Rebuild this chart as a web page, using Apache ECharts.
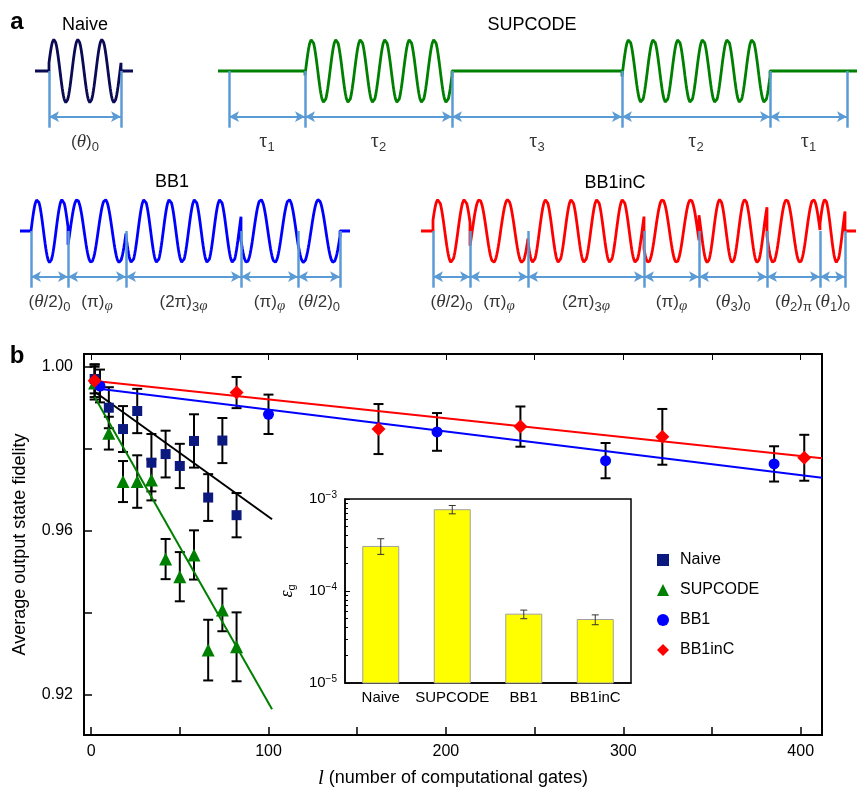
<!DOCTYPE html>
<html>
<head>
<meta charset="utf-8">
<script src="https://cdn.jsdelivr.net/npm/echarts@6/dist/echarts.min.js"></script>
<style>
html, body { margin: 0; padding: 0; background: #fff; }
#chart { width: 857px; height: 792px; }
</style>
</head>
<body>
<div id="chart"></div>
<script>
// ---------- panel a : pulse sequences (durations, carrier cycles, start phase in deg) ----------
const naiveDur = [72];
const naiveCycles = [3];
const naivePhase = [15];
const naiveLead = [14, 12];
const naiveLabels = ['{n|(}{it|θ}{n|)}{s|0}'];

const supDur = [76, 147, 170, 148, 77];
const supCycles = [0, 6, 0, 6, 0];
const supPhase = [0, -8, 0, -10, 0];
const supLead = [11, 10];
const supLabels = ['{tau|τ}{s|1}', '{tau|τ}{s|2}', '{tau|τ}{s|3}', '{tau|τ}{s|2}', '{tau|τ}{s|1}'];

const bb1Dur = [37, 58, 115, 57, 42];
const bb1Cycles = [1.48, 2.06, 4.55, 2.02, 1.41];
const bb1Phase = [0, -26, 189, 197, 203];
const bb1Lead = [11, 10];
const bb1Labels = ['{n|(}{it|θ}{n|/2)}{s|0}', '{n|(π)}{si|φ}', '{n|(2π)}{s|3}{si|φ}', '{n|(π)}{si|φ}', '{n|(}{it|θ}{n|/2)}{s|0}'];

const bb1cDur = [37, 58, 116, 55, 68, 53, 25];
const bb1cCycles = [1.4, 2.04, 4.52, 1.95, 2.72, 1.97, 1.07];
const bb1cPhase = [20, -28, 200, 215, 150, 189, 13];
const bb1cLead = [12, 11];
const bb1cLabels = ['{n|(}{it|θ}{n|/2)}{s|0}', '{n|(π)}{si|φ}', '{n|(2π)}{s|3}{si|φ}', '{n|(π)}{si|φ}',
  '{n|(}{it|θ}{s|3}{n|)}{s|0}', '{n|(}{it|θ}{s|2}{n|)}{s|π}', '{n|(}{it|θ}{s|1}{n|)}{s|0}'];

// ---------- panel b : fidelity vs number of gates ----------
const naiveL = [2, 10, 18, 26, 34, 42, 50, 58, 66, 74, 82];
const naiveF = [0.9970, 0.9900, 0.9848, 0.9892, 0.9766, 0.9787, 0.9758, 0.9819, 0.9681, 0.9820, 0.9638];
const naiveErr = [0.0035, 0.0050, 0.0056, 0.0054, 0.0070, 0.0057, 0.0054, 0.0065, 0.0057, 0.0055, 0.0054];
const supF = [0.9960, 0.9838, 0.9720, 0.9720, 0.9724, 0.9531, 0.9488, 0.9541, 0.9309, 0.9407, 0.9317];
const supErr = [0.0040, 0.0040, 0.0050, 0.0064, 0.0050, 0.0049, 0.0060, 0.0060, 0.0074, 0.0052, 0.0084];
const bb1L = [5, 100, 195, 290, 385];
const bb1F = [0.9953, 0.9884, 0.9841, 0.9771, 0.9763];
const bb1Err = [0.0040, 0.0048, 0.0046, 0.0043, 0.0043];
const bb1cL = [2, 82, 162, 242, 322, 402];
const bb1cF = [0.9966, 0.9937, 0.9848, 0.9854, 0.9829, 0.9778];
const bb1cErr = [0.0040, 0.0038, 0.0061, 0.0049, 0.0068, 0.0056];

// linear fits (end points)
const shortFitL = [2, 102];
const naiveFit = [0.9939, 0.9628];
const supFit = [0.9926, 0.9165];
const longFitL = [1, 412];
const bb1Fit = [0.9948, 0.9729];
const bb1cFit = [0.9966, 0.9777];

const xTicks = [0, 50, 100, 150, 200, 250, 300, 350, 400];
const xLabels = [0, 100, 200, 300, 400];
const yTicks = [0.92, 0.94, 0.96, 0.98, 1.00];
const yLabels = [0.92, 0.96, 1.00];

// inset: gate error per gate type
const gateCats = ['Naive', 'SUPCODE', 'BB1', 'BB1inC'];
const epsG = [3.05e-4, 7.65e-4, 5.6e-5, 4.9e-5];
const epsLo = [2.5e-4, 6.9e-4, 5.0e-5, 4.3e-5];
const epsHi = [3.7e-4, 8.5e-4, 6.2e-5, 5.5e-5];
const threshold = 1e-4;
const insetMin = 1e-5, insetMax = 1e-3;

const SANS = 'Liberation Sans';
const SERIF = 'Liberation Serif';
const MARK = '#5b9bd5';

const labRich = {
  n: { fontFamily: SANS, fontSize: 17, lineHeight: 24, color: '#000' },
  it: { fontFamily: SERIF, fontStyle: 'italic', fontSize: 19, lineHeight: 24, color: '#000' },
  tau: { fontFamily: SERIF, fontSize: 20, lineHeight: 24, color: '#000' },
  s: { fontFamily: SANS, fontSize: 13, lineHeight: 13, verticalAlign: 'bottom', color: '#000' },
  si: { fontFamily: SERIF, fontStyle: 'italic', fontSize: 15, lineHeight: 14, verticalAlign: 'bottom', color: '#000' }
};

// sampled carrier for a sequence of pulses
function wavePoints(durs, cycles, phases, lead) {
  const pts = [[-lead[0], 0], [0, 0]];
  let t0 = 0;
  durs.forEach((d, k) => {
    const n = cycles[k];
    if (n === 0) {
      pts.push([t0, 0], [t0 + d, 0]);
    } else {
      const steps = Math.ceil(n * 40);
      const ph = phases[k] * Math.PI / 180;
      for (let j = 0; j <= steps; j++) {
        const f = j / steps;
        pts.push([t0 + f * d, Math.sin(ph + 2 * Math.PI * n * f)]);
      }
    }
    t0 += d;
  });
  pts.push([t0, 0], [t0 + lead[1], 0]);
  return pts;
}

function bounds(durs) {
  const b = [0];
  durs.forEach(d => b.push(b[b.length - 1] + d));
  return b;
}

const grids = [], xAxes = [], yAxes = [], series = [];
const AMP = 31.5, Y_TOP = 1.8, Y_BOT = -2.6;

function addSequence(durs, cycles, phases, lead, labels, color, left, baseline) {
  const gi = grids.length;
  const total = durs.reduce((a, b) => a + b, 0);
  grids.push({ left: left, top: baseline - Y_TOP * AMP, width: total + lead[0] + lead[1],
    height: (Y_TOP - Y_BOT) * AMP, containLabel: false, outerBoundsMode: 'none' });
  xAxes.push({ gridIndex: gi, type: 'value', min: -lead[0], max: total + lead[1], show: false });
  yAxes.push({ gridIndex: gi, type: 'value', min: Y_BOT, max: Y_TOP, show: false });
  const b = bounds(durs);
  series.push({
    type: 'line', xAxisIndex: gi, yAxisIndex: gi, data: wavePoints(durs, cycles, phases, lead),
    showSymbol: false, silent: true, lineStyle: { color: color, width: 2.8 }, z: 2,
    markLine: {
      silent: true, symbol: 'none', label: { show: false },
      lineStyle: { color: MARK, width: 2.5, type: 'solid' },
      data: b.map(x => [{ coord: [x, 0] }, { coord: [x, -1.8] }])
    }
  });
  series.push({
    type: 'scatter', xAxisIndex: gi, yAxisIndex: gi, silent: true, symbolSize: 1,
    itemStyle: { color: 'rgba(0,0,0,0)' }, z: 3,
    data: labels.map((t, i) => ({ value: [(b[i] + b[i + 1]) / 2, -2.25], name: t })),
    label: { show: true, position: 'inside', formatter: p => p.name, rich: labRich },
    markLine: {
      silent: true, symbol: ['arrow', 'arrow'], symbolSize: [8, 10], label: { show: false },
      lineStyle: { color: MARK, width: 2, type: 'solid' },
      data: labels.map((t, i) => [{ coord: [b[i], -1.45] }, { coord: [b[i + 1], -1.45] }])
    }
  });
}

addSequence(naiveDur, naiveCycles, naivePhase, naiveLead, naiveLabels, '#0a0a55', 35, 71);
addSequence(supDur, supCycles, supPhase, supLead, supLabels, '#008000', 218, 71);
addSequence(bb1Dur, bb1Cycles, bb1Phase, bb1Lead, bb1Labels, '#0000ff', 20, 231);
addSequence(bb1cDur, bb1cCycles, bb1cPhase, bb1cLead, bb1cLabels, '#ff0000', 421, 231);

// ---------- panel b grids ----------
const MAIN = grids.length;
grids.push({ left: 84, top: 354, width: 738, height: 381, show: true, borderColor: '#000', borderWidth: 2,
  containLabel: false, outerBoundsMode: 'none' });
const INSET = grids.length;
grids.push({ left: 345, top: 499, width: 286, height: 184, show: true, backgroundColor: '#fff',
  borderColor: '#000', borderWidth: 1.5, containLabel: false, outerBoundsMode: 'none' });

const mx = xAxes.length;
xAxes.push({
  gridIndex: MAIN, type: 'value', min: -4, max: 412, position: 'bottom',
  axisLine: { show: true, onZero: false, lineStyle: { color: '#000', width: 2 } },
  axisTick: { show: true, inside: true, length: 8, customValues: xTicks, lineStyle: { color: '#000', width: 1.5 } },
  axisLabel: { customValues: xLabels, fontSize: 16, color: '#000', fontFamily: SANS, margin: 9 },
  splitLine: { show: false },
  name: '{i|l} (number of computational gates)', nameLocation: 'middle', nameGap: 33,
  nameTextStyle: { fontSize: 18, color: '#000', fontFamily: SANS,
    rich: { i: { fontFamily: SERIF, fontStyle: 'italic', fontSize: 21, color: '#000' } } }
});
xAxes.push({
  gridIndex: MAIN, type: 'value', min: -4, max: 412, position: 'top',
  axisLine: { show: true, onZero: false, lineStyle: { color: '#000', width: 2 } },
  axisTick: { show: true, inside: true, length: 6, customValues: xTicks, lineStyle: { color: '#000', width: 1 } },
  axisLabel: { show: false }, splitLine: { show: false }
});
const my = yAxes.length;
yAxes.push({
  gridIndex: MAIN, type: 'value', min: 0.9102, max: 1.0031, position: 'left',
  axisLine: { show: true, onZero: false, lineStyle: { color: '#000', width: 2 } },
  axisTick: { show: true, inside: true, length: 8, customValues: yTicks, lineStyle: { color: '#000', width: 1.5 } },
  axisLabel: { customValues: yLabels, formatter: v => v.toFixed(2), fontSize: 16, color: '#000', fontFamily: SANS, margin: 11 },
  splitLine: { show: false },
  name: 'Average output state fidelity', nameLocation: 'middle', nameGap: 55, nameRotate: 90,
  nameTextStyle: { fontSize: 18, color: '#000', fontFamily: SANS }
});
yAxes.push({
  gridIndex: MAIN, type: 'value', min: 0.9102, max: 1.0031, position: 'right',
  axisLine: { show: true, onZero: false, lineStyle: { color: '#000', width: 2 } },
  axisTick: { show: false }, axisLabel: { show: false }, splitLine: { show: false }
});

const ix = xAxes.length;
xAxes.push({
  gridIndex: INSET, type: 'category', data: gateCats,
  axisLine: { show: true, onZero: false, lineStyle: { color: '#000', width: 1.5 } },
  axisTick: { show: false },
  axisLabel: { interval: 0, fontSize: 15, color: '#000', fontFamily: SANS, margin: 7 }
});
const minorVals = [];
[1e-5, 1e-4].forEach(d => { for (let k = 2; k <= 9; k++) minorVals.push(d * k); });
const supMap = { '-3': '−3', '-4': '−4', '-5': '−5' };
const iy = yAxes.length;
yAxes.push({
  gridIndex: INSET, type: 'log', logBase: 10, min: insetMin, max: insetMax, position: 'left',
  axisLine: { show: true, onZero: false, lineStyle: { color: '#000', width: 1.5 } },
  axisTick: { show: true, inside: true, length: 5, lineStyle: { color: '#000', width: 1 } },
  axisLabel: {
    color: '#000', margin: 8,
    formatter: v => '{b|10}{p|' + supMap[String(Math.round(Math.log10(v)))] + '}',
    rich: {
      b: { fontFamily: SANS, fontSize: 15, lineHeight: 18, color: '#000' },
      p: { fontFamily: SANS, fontSize: 10, lineHeight: 10, verticalAlign: 'top', color: '#000' }
    }
  },
  splitLine: { show: false },
  name: '{e|ε}{g|g}', nameLocation: 'middle', nameGap: 48, nameRotate: 90,
  nameTextStyle: {
    rich: {
      e: { fontFamily: SERIF, fontStyle: 'italic', fontSize: 18, lineHeight: 20, color: '#000' },
      g: { fontFamily: SANS, fontSize: 11, lineHeight: 10, verticalAlign: 'bottom', color: '#000' }
    }
  }
});
yAxes.push({
  gridIndex: INSET, type: 'log', logBase: 10, min: insetMin, max: insetMax, position: 'left',
  axisLine: { show: false, onZero: false },
  axisTick: { show: true, inside: true, length: 3, customValues: minorVals, lineStyle: { color: '#000', width: 1 } },
  axisLabel: { show: false }, splitLine: { show: false }
});

// error bars through the axes
function errorBars(xs, lo, hi, xi, yi, color, capHalf, width, z) {
  return {
    type: 'custom', xAxisIndex: xi, yAxisIndex: yi, z: z, silent: true,
    data: xs.map((x, i) => [x, lo[i], hi[i]]),
    encode: { x: 0, y: [1, 2] },
    renderItem: (params, api) => {
      const a = api.coord([api.value(0), api.value(1)]);
      const b = api.coord([api.value(0), api.value(2)]);
      const st = { stroke: color, lineWidth: width };
      return { type: 'group', children: [
        { type: 'line', shape: { x1: a[0], y1: a[1], x2: b[0], y2: b[1] }, style: st },
        { type: 'line', shape: { x1: a[0] - capHalf, y1: a[1], x2: a[0] + capHalf, y2: a[1] }, style: st },
        { type: 'line', shape: { x1: b[0] - capHalf, y1: b[1], x2: b[0] + capHalf, y2: b[1] }, style: st }
      ] };
    }
  };
}
const zip = (a, b) => a.map((v, i) => [v, b[i]]);
const lo = (f, e) => f.map((v, i) => v - e[i]);
const hi = (f, e) => f.map((v, i) => v + e[i]);

series.push(errorBars(naiveL, lo(naiveF, naiveErr), hi(naiveF, naiveErr), mx, my, '#000', 5, 2, 2));
series.push(errorBars(naiveL, lo(supF, supErr), hi(supF, supErr), mx, my, '#000', 5, 2, 2));
series.push(errorBars(bb1L, lo(bb1F, bb1Err), hi(bb1F, bb1Err), mx, my, '#000', 5, 2, 2));
series.push(errorBars(bb1cL, lo(bb1cF, bb1cErr), hi(bb1cF, bb1cErr), mx, my, '#000', 5, 2, 2));

const fitLine = (xs, ys, color) => ({
  type: 'line', xAxisIndex: mx, yAxisIndex: my, data: zip(xs, ys), showSymbol: false, silent: true,
  lineStyle: { color: color, width: 2 }, z: 3
});
series.push(fitLine(shortFitL, naiveFit, '#000'));
series.push(fitLine(shortFitL, supFit, '#008000'));
series.push(fitLine(longFitL, bb1Fit, '#0000ff'));
series.push(fitLine(longFitL, bb1cFit, '#ff0000'));

const points = (name, xs, ys, symbol, size, color) => ({
  name: name, type: 'scatter', xAxisIndex: mx, yAxisIndex: my, data: zip(xs, ys),
  symbol: symbol, symbolSize: size, itemStyle: { color: color, opacity: 1 }, z: 4, silent: true
});
series.push(points('Naive', naiveL, naiveF, 'rect', 10, '#0c1a80'));
series.push(points('SUPCODE', naiveL, supF, 'triangle', 13, '#008000'));
series.push(points('BB1', bb1L, bb1F, 'circle', 11, '#0000ff'));
series.push(points('BB1inC', bb1cL, bb1cF, 'diamond', 14, '#ff0000'));

// inset bars
series.push({
  type: 'custom', xAxisIndex: ix, yAxisIndex: iy, z: 2, silent: true,
  data: gateCats.map((c, i) => [i, epsG[i]]),
  encode: { x: 0, y: 1 },
  renderItem: (params, api) => {
    const top = api.coord([api.value(0), api.value(1)]);
    const base = api.coord([api.value(0), insetMin]);
    return { type: 'rect', shape: { x: top[0] - 18, y: top[1], width: 36, height: base[1] - top[1] },
      style: { fill: '#ffff00', stroke: '#a0a0a0', lineWidth: 1 } };
  },
  markLine: {
    silent: true, symbol: 'none', label: { show: false },
    lineStyle: { color: '#000', width: 1.2, type: [4, 4] },
    data: [{ yAxis: threshold }]
  }
});
series.push(errorBars(gateCats.map((c, i) => i), epsLo, epsHi, ix, iy, '#333', 3.5, 1, 3));

const chart = echarts.init(document.getElementById('chart'), null, { renderer: 'canvas' });
chart.setOption({
  animation: false,
  backgroundColor: '#fff',
  textStyle: { fontFamily: SANS },
  grid: grids,
  xAxis: xAxes,
  yAxis: yAxes,
  legend: {
    orient: 'vertical', left: 652, top: 547, itemGap: 14, itemWidth: 12, itemHeight: 12,
    selectedMode: false,
    textStyle: { fontSize: 16, color: '#000', fontFamily: SANS, padding: [0, 0, 0, 6] },
    data: [
      { name: 'Naive', icon: 'rect' },
      { name: 'SUPCODE', icon: 'triangle' },
      { name: 'BB1', icon: 'circle' },
      { name: 'BB1inC', icon: 'diamond' }
    ]
  },
  graphic: [
    { type: 'text', x: 17, y: 22, style: { text: 'a', font: 'bold 24px ' + SANS, fill: '#000', align: 'center', verticalAlign: 'middle' } },
    { type: 'text', x: 17, y: 356, style: { text: 'b', font: 'bold 24px ' + SANS, fill: '#000', align: 'center', verticalAlign: 'middle' } },
    { type: 'text', x: 85, y: 25, style: { text: 'Naive', font: '18px ' + SANS, fill: '#000', align: 'center', verticalAlign: 'middle' } },
    { type: 'text', x: 532, y: 25, style: { text: 'SUPCODE', font: '18px ' + SANS, fill: '#000', align: 'center', verticalAlign: 'middle' } },
    { type: 'text', x: 172, y: 182, style: { text: 'BB1', font: '18px ' + SANS, fill: '#000', align: 'center', verticalAlign: 'middle' } },
    { type: 'text', x: 615, y: 183, style: { text: 'BB1inC', font: '18px ' + SANS, fill: '#000', align: 'center', verticalAlign: 'middle' } }
  ],
  series: series
});
</script>
</body>
</html>
